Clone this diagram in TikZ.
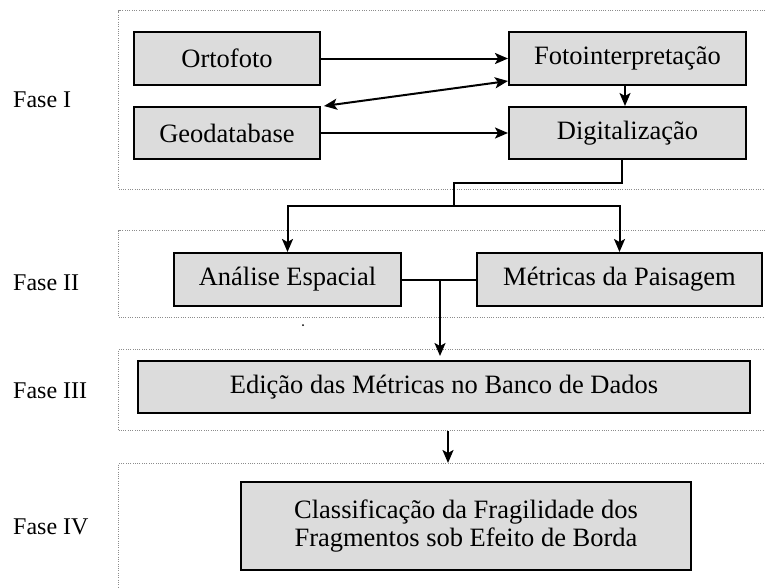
\documentclass[tikz,border=0pt]{standalone}
\usepackage{fontspec}
\setmainfont{Liberation Serif}
\usetikzlibrary{arrows.meta,calc}
\definecolor{boxgray}{RGB}{220,220,220}
\definecolor{dotgray}{RGB}{140,140,140}
\begin{document}
\begin{tikzpicture}[x=1pt,y=-1pt,
  box/.style={draw=black, line width=2pt, fill=boxgray, inner sep=0pt,
    font=\fontsize{26.5}{28}\selectfont},
  phasebox/.style={draw=dotgray, line width=1pt, dash pattern=on 1pt off 1.3pt,
    inner sep=0pt, anchor=north west},
  tip/.tip={Stealth[length=13pt,width=11pt,inset=3pt]},
  arr/.style={line width=2pt, -tip},
  darr/.style={line width=2pt, tip-tip},
  ln/.style={line width=2pt},
  lbl/.style={anchor=base west, inner sep=0pt, font=\fontsize{24}{28}\selectfont}]
\useasboundingbox (0,0) rectangle (765,587);

% phase frames
\node[phasebox, minimum width=680pt, minimum height=179pt] (p1) at (118,10) {};
\node[phasebox, minimum width=680pt, minimum height=87pt] (p2) at (118,230) {};
\node[phasebox, minimum width=680pt, minimum height=81pt] (p3) at (118,349) {};
\node[phasebox, minimum width=680pt, minimum height=150pt] (p4) at (118,463) {};

% phase labels
\node[lbl] (l1) at (13,107) {Fase I};
\node[lbl] (l2) at (13,290) {Fase II};
\node[lbl] (l3) at (13,398) {Fase III};
\node[lbl] (l4) at (13,534) {Fase IV};

% boxes
\node[box, minimum width=186pt, minimum height=53pt] (orto) at (227,58.5) {Ortofoto};
\node[box, minimum width=237pt, minimum height=53pt] (foto) at (627.5,58.5) {Fotointerpretação};
\node[box, minimum width=186pt, minimum height=52pt] (geo) at (227,133) {Geodatabase};
\node[box, minimum width=237pt, minimum height=52pt] (digit) at (627.5,133) {Digitalização};
\node[box, minimum width=227pt, minimum height=53pt] (analise) at (287.5,279.5) {Análise Espacial};
\node[box, minimum width=285pt, minimum height=53pt] (metricas) at (619.5,279.5) {Métricas da Paisagem};
\node[box, minimum width=612pt, minimum height=52pt] (edicao) at (444,387) {Edição das Métricas no Banco de Dados};
\node[box, minimum width=450pt, minimum height=88pt, align=center] (classif) at (466,526)
  {Classificação da Fragilidade dos\\Fragmentos sob Efeito de Borda};

% connectors phase I
\draw[arr] (orto.east) -- (foto.west);
\draw[arr] (geo.east) -- (digit.west);
\draw[darr] ($(foto.south west)+(0,-5)$) -- ($(geo.north east)+(3,0)$);
\draw[arr] ([xshift=-2.5pt]foto.south) -- ([xshift=-2.5pt]digit.north);

% phase I -> II
\coordinate (k1) at (454,183);
\coordinate (j1) at (454,206);
\draw[ln] ([xshift=-5.5pt]digit.south) |- (k1) -- (j1);
\draw[arr] (j1) -| (analise.north);
\draw[arr] (j1) -| (metricas.north);

% phase II -> III
\draw[ln] (analise.east) -- (metricas.west);
\coordinate (j2) at (440,279);
\coordinate (t2) at (440,356);
\draw[arr] (j2) -- (t2);

% phase III -> IV
\draw[arr] ($(p3.south west)+(330,0)$) -- ($(p4.north west)+(330,0)$);

% stray dot
\fill (303,325) circle (1pt);
\end{tikzpicture}
\end{document}
